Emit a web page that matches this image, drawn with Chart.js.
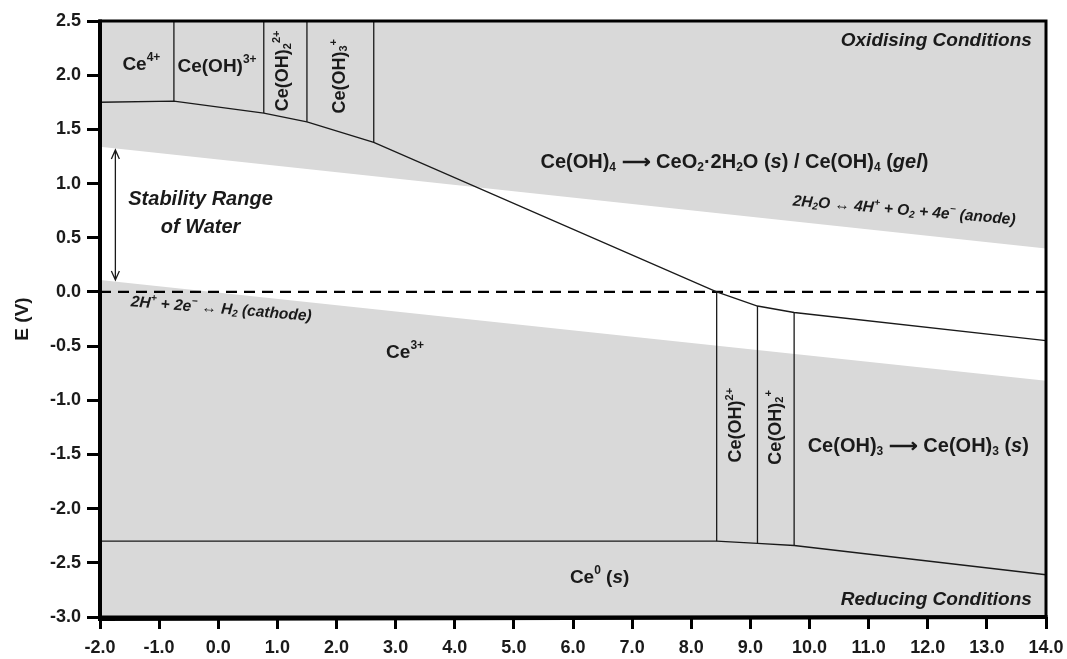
<!DOCTYPE html>
<html>
<head>
<meta charset="utf-8">
<script src="https://cdn.jsdelivr.net/npm/chart.js@4.4.1/dist/chart.umd.min.js"></script>
<style>
  html, body { margin: 0; background: #fff; }
  #wrap { width: 1067px; height: 659px; }
</style>
</head>
<body>
<div id="wrap"><canvas id="pourbaix"></canvas></div>
<script>
const FONT = '"Liberation Sans", Arial, sans-serif';
const INK = '#1a1a1a';

// boundary between Ce(III)/Ce(IV) species (upper) and Ce(0)/Ce(III) (lower)
const upperPh = [-2, -0.75, 0.77, 1.50, 2.63, 8.43, 9.12, 9.74, 14];
const upperE = [1.75, 1.76, 1.65, 1.57, 1.38, 0.0, -0.13, -0.19, -0.45];
const lowerPh = [-2, 8.43, 9.12, 9.74, 14];
const lowerE = [-2.30, -2.30, -2.32, -2.34, -2.61];

// vertical (acid/base) boundaries
const dividerPh = [-0.75, 0.77, 1.50, 2.63, 8.43, 9.12, 9.74];
const dividerTop = [2.5, 2.5, 2.5, 2.5, 0.0, -0.13, -0.19];
const dividerBottom = [1.76, 1.65, 1.57, 1.38, -2.30, -2.32, -2.34];

// water stability lines
const waterPh = [-2, 14];
const oxygenE = [1.34, 0.40];
const hydrogenE = [0.11, -0.82];
const arrowPh = -1.74;
const arrowE = [1.31, 0.11];

const xTicks = [-2, -1, 0, 1, 2, 3, 4, 5, 6, 7, 8, 9, 10, 11, 12, 13, 14];
const yTicks = [2.5, 2.0, 1.5, 1.0, 0.5, 0.0, -0.5, -1.0, -1.5, -2.0, -2.5, -3.0];

// region labels: text, pH, E, options
const labels = [
  ['Ce^{4+}', -1.30, 2.10, {}],
  ['Ce(OH)^{3+}', -0.02, 2.08, {}],
  ['Ce(OH)_{2}^{2+}', 1.10, 2.04, { rot: -Math.PI / 2, size: 18 }],
  ['Ce(OH)_{3}^{+}', 2.06, 1.99, { rot: -Math.PI / 2, size: 18 }],
  ['Oxidising Conditions', 13.76, 2.32, { align: 'right', italic: true, size: 19 }],
  ['Ce(OH)_{4} ⟶ CeO_{2}·2H_{2}O (*s*) / Ce(OH)_{4} (*gel*)', 8.73, 1.19, { size: 20 }],
  ['2H_{2}O ↔ 4H^{+} + O_{2} + 4e^{−} (anode)', 11.6, 0.75, { italic: true, size: 15.5, rot: 0.085 }],
  ['Stability Range', -0.30, 0.85, { italic: true, size: 20 }],
  ['of Water', -0.30, 0.59, { italic: true, size: 20 }],
  ['2H^{+} + 2e^{−} ↔ H_{2} (cathode)', 0.05, -0.16, { italic: true, size: 15.5, rot: 0.08 }],
  ['Ce^{3+}', 3.16, -0.56, {}],
  ['Ce(OH)^{2+}', 8.76, -1.23, { rot: -Math.PI / 2, size: 18 }],
  ['Ce(OH)_{2}^{+}', 9.43, -1.25, { rot: -Math.PI / 2, size: 18 }],
  ['Ce(OH)_{3} ⟶ Ce(OH)_{3} (*s*)', 11.84, -1.43, { size: 20 }],
  ['Ce^{0} (*s*)', 6.45, -2.64, {}],
  ['Reducing Conditions', 13.76, -2.84, { align: 'right', italic: true, size: 19 }],
];

function pts(xs, ys) {
  return xs.map((x, i) => ({ x, y: ys[i] }));
}

function parseRich(str) {
  const out = [];
  let i = 0, italic = false, buf = '';
  const push = (t, mode) => { if (t) out.push({ t, mode, italic }); };
  while (i < str.length) {
    const c = str[i];
    if (c === '_' || c === '^') {
      push(buf, ''); buf = '';
      let t;
      if (str[i + 1] === '{') { const j = str.indexOf('}', i); t = str.slice(i + 2, j); i = j + 1; }
      else { t = str[i + 1]; i += 2; }
      push(t, c === '_' ? 'sub' : 'sup');
    } else if (c === '*') {
      push(buf, ''); buf = ''; italic = !italic; i++;
    } else { buf += c; i++; }
  }
  push(buf, '');
  return out;
}

function drawRich(ctx, str, x, y, o) {
  const size = o.size || 19;
  const parts = parseRich(str);
  const fontOf = p => `${(o.italic || p.italic) ? 'italic ' : ''}bold ${p.mode ? Math.round(size * 0.62) : size}px ${FONT}`;
  let w = 0;
  parts.forEach(p => { ctx.font = fontOf(p); p.w = ctx.measureText(p.t).width; w += p.w; });
  ctx.save();
  ctx.translate(x, y);
  ctx.rotate(o.rot || 0);
  ctx.fillStyle = INK;
  ctx.textAlign = 'left';
  ctx.textBaseline = 'middle';
  let cx = o.align === 'right' ? -w : o.align === 'left' ? 0 : -w / 2;
  parts.forEach(p => {
    ctx.font = fontOf(p);
    const dy = p.mode === 'sup' ? -size * 0.36 : p.mode === 'sub' ? size * 0.24 : 0;
    ctx.fillText(p.t, cx, dy);
    cx += p.w;
  });
  ctx.restore();
}

const diagramPlugin = {
  id: 'diagram',
  beforeDraw(chart) {
    const { ctx, chartArea: a } = chart;
    ctx.save();
    ctx.fillStyle = '#d9d9d9';
    ctx.fillRect(a.left, a.top, a.right - a.left, a.bottom - a.top);
    ctx.restore();
  },
  afterDatasetsDraw(chart) {
    const { ctx, chartArea: a, scales: { x, y } } = chart;
    // double headed arrow for the water stability range
    const ax = x.getPixelForValue(arrowPh);
    const y1 = y.getPixelForValue(arrowE[0]);
    const y2 = y.getPixelForValue(arrowE[1]);
    ctx.save();
    ctx.strokeStyle = INK;
    ctx.lineWidth = 1.3;
    ctx.beginPath();
    ctx.moveTo(ax, y1); ctx.lineTo(ax, y2);
    ctx.moveTo(ax - 4, y1 + 9); ctx.lineTo(ax, y1); ctx.lineTo(ax + 4, y1 + 9);
    ctx.moveTo(ax - 4, y2 - 9); ctx.lineTo(ax, y2); ctx.lineTo(ax + 4, y2 - 9);
    ctx.stroke();
    ctx.restore();

    labels.forEach(([text, ph, e, o]) => {
      drawRich(ctx, text, x.getPixelForValue(ph), y.getPixelForValue(e), o);
    });

    // frame
    ctx.save();
    ctx.strokeStyle = '#000';
    ctx.lineWidth = 3;
    ctx.strokeRect(a.left, a.top, a.right - a.left, a.bottom - a.top);
    ctx.lineWidth = 4;
    ctx.beginPath();
    ctx.moveTo(a.left, a.top - 1.5); ctx.lineTo(a.left, a.bottom + 2);
    ctx.lineTo(a.right + 1.5, a.bottom);
    ctx.stroke();
    ctx.restore();

    // axis title
    ctx.save();
    ctx.translate(23, (a.top + a.bottom) / 2);
    ctx.rotate(-Math.PI / 2);
    ctx.font = `bold 19px ${FONT}`;
    ctx.fillStyle = INK;
    ctx.textAlign = 'center';
    ctx.textBaseline = 'middle';
    ctx.fillText('E (V)', 0, 0);
    ctx.restore();
  },
};

const line = (data, extra) => Object.assign({
  data, showLine: true, pointRadius: 0, borderColor: INK, borderWidth: 1.3,
  fill: false, tension: 0, order: 1,
}, extra);

const datasets = [
  line(pts(waterPh, oxygenE), { borderWidth: 0, borderColor: 'rgba(0,0,0,0)', order: 10 }),
  line(pts(waterPh, hydrogenE), { borderWidth: 0, borderColor: 'rgba(0,0,0,0)', fill: '-1', backgroundColor: '#ffffff', order: 9 }),
  line(pts(upperPh, upperE)),
  line(pts(lowerPh, lowerE)),
  line(pts(waterPh, [0, 0]), { borderWidth: 2.4, borderDash: [11, 7], borderColor: '#000' }),
];
dividerPh.forEach((ph, i) => {
  datasets.push(line(pts([ph, ph], [dividerTop[i], dividerBottom[i]])));
});

new Chart(document.getElementById('pourbaix'), {
  type: 'scatter',
  data: { datasets },
  options: {
    responsive: true,
    maintainAspectRatio: false,
    animation: false,
    layout: { padding: { top: 21, right: 21, left: 0, bottom: 0 } },
    plugins: { legend: { display: false }, tooltip: { enabled: false } },
    scales: {
      x: {
        type: 'linear', min: -2, max: 14,
        afterBuildTicks: s => { s.ticks = xTicks.map(v => ({ value: v })); },
        afterFit: s => { s.height = 42; s.paddingLeft = 0; s.paddingRight = 0; },
        border: { display: false },
        grid: { drawOnChartArea: false, drawTicks: true, tickLength: 12, tickWidth: 3, color: '#000' },
        ticks: { color: INK, padding: 8, maxRotation: 0, font: { family: FONT, size: 18, weight: 'bold' },
          callback: v => v.toFixed(1) },
      },
      y: {
        type: 'linear', min: -3, max: 2.5,
        afterBuildTicks: s => { s.ticks = yTicks.map(v => ({ value: v })); },
        afterFit: s => { s.width = 100; s.paddingTop = 0; s.paddingBottom = 0; },
        border: { display: false },
        grid: { drawOnChartArea: false, drawTicks: true, tickLength: 13, tickWidth: 3, color: '#000' },
        ticks: { color: INK, padding: 6, font: { family: FONT, size: 18, weight: 'bold' },
          callback: v => v.toFixed(1) },
      },
    },
  },
  plugins: [diagramPlugin],
});
</script>
</body>
</html>
